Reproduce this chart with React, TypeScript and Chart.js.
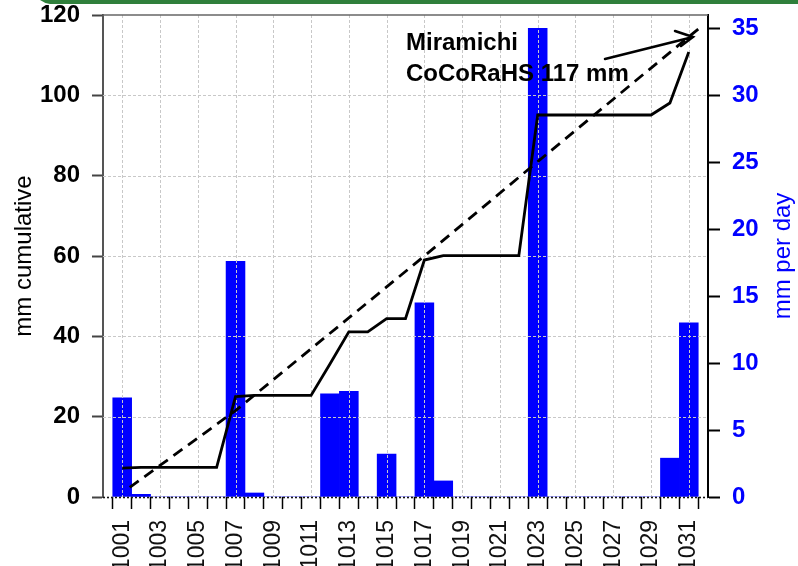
import React, { useEffect, useRef } from "react";
import { Chart, registerables } from "chart.js";

Chart.register(...registerables);

// ---- data ----
const days = [
  1001, 1002, 1003, 1004, 1005, 1006, 1007, 1008, 1009, 1010, 1011, 1012, 1013, 1014, 1015, 1016,
  1017, 1018, 1019, 1020, 1021, 1022, 1023, 1024, 1025, 1026, 1027, 1028, 1029, 1030, 1031,
];
const dailyMm = [
  7.4, 0.2, 0, 0, 0, 0, 17.6, 0.3, 0, 0, 0, 7.7, 7.9, 0, 3.2, 0,
  14.5, 1.2, 0, 0, 0, 0, 35.0, 0, 0, 0, 0, 0, 0, 2.9, 13.0,
];
const cumulativeMm = [
  7.2, 7.4, 7.4, 7.4, 7.4, 7.4, 25.0, 25.3, 25.3, 25.3, 25.3, 33.1, 41.1, 41.1, 44.4, 44.4,
  59.0, 60.1, 60.1, 60.1, 60.1, 60.1, 95.1, 95.1, 95.1, 95.1, 95.1, 95.1, 95.1, 98.1, 110.8,
];
const normalDays = [1001.4, 1007, 1017, 1023, 1031.5];
const normalMm = [2.4, 21.5, 60.0, 83.5, 116.5];
const leftTicks = [0, 20, 40, 60, 80, 100, 120];
const rightTicks = [0, 5, 10, 15, 20, 25, 30, 35];
const leftTitle = "mm cumulative";
const rightTitle = "mm per day";
const annotationLines = ["Miramichi", "CoCoRaHS 117 mm"];

const FONT = '"Liberation Sans", Arial, Helvetica, sans-serif';

const decorPlugin = {
  id: "decor",
  beforeDraw(chart: any) {
    const ctx = chart.ctx;
    ctx.save();
    ctx.fillStyle = "#2f7f3b";
    ctx.beginPath();
    ctx.moveTo(40, 0);
    ctx.lineTo(798, 0);
    ctx.lineTo(798, 4);
    ctx.lineTo(50, 4);
    ctx.quadraticCurveTo(44, 3, 40, 0);
    ctx.closePath();
    ctx.fill();
    ctx.restore();
  },
  afterDatasetDraw(chart: any, args: any) {
    if (args.index !== 0) return;
    const { ctx, chartArea } = chart;
    const xs = chart.scales.x;
    const ys = chart.scales.y;
    ctx.save();
    ctx.beginPath();
    ctx.rect(chartArea.left, chartArea.top, chartArea.right - chartArea.left, chartArea.bottom - chartArea.top);
    ctx.clip();
    ctx.strokeStyle = "#c8c8c8";
    ctx.lineWidth = 1;
    ctx.setLineDash([3, 2]);
    leftTicks.forEach((v) => {
      if (v === leftTicks[0] || v === leftTicks[leftTicks.length - 1]) return;
      const y = Math.round(ys.getPixelForValue(v)) + 0.5;
      ctx.beginPath();
      ctx.moveTo(chartArea.left, y);
      ctx.lineTo(chartArea.right, y);
      ctx.stroke();
    });
    days.forEach((d) => {
      if (d % 2 !== 1) return;
      const x = Math.round(xs.getPixelForValue(d)) + 0.5;
      ctx.beginPath();
      ctx.moveTo(x, chartArea.top);
      ctx.lineTo(x, chartArea.bottom);
      ctx.stroke();
    });
    ctx.restore();
  },
  afterDatasetsDraw(chart: any) {
    const { ctx, chartArea } = chart;
    ctx.save();
    ctx.strokeStyle = "#111";
    ctx.lineWidth = 1.6;
    ctx.setLineDash([2, 2]);
    ctx.beginPath();
    ctx.moveTo(chartArea.left, Math.round(chartArea.bottom) + 0.5);
    ctx.lineTo(chartArea.right, Math.round(chartArea.bottom) + 0.5);
    ctx.stroke();
    ctx.setLineDash([]);
    ctx.strokeStyle = "#666";
    ctx.lineWidth = 1.5;
    ctx.beginPath();
    ctx.moveTo(chartArea.left, chartArea.top);
    ctx.lineTo(chartArea.right, chartArea.top);
    ctx.stroke();
    ctx.restore();
  },
  afterDraw(chart: any) {
    const { ctx, chartArea } = chart;
    ctx.save();
    // right axis title (reads bottom-to-top)
    ctx.fillStyle = "#0000ff";
    ctx.font = `24px ${FONT}`;
    ctx.textAlign = "center";
    ctx.textBaseline = "middle";
    ctx.translate(783, (chartArea.top + chartArea.bottom) / 2);
    ctx.rotate(-Math.PI / 2);
    ctx.fillText(rightTitle, 0, 0);
    ctx.restore();

    ctx.save();
    ctx.fillStyle = "#000";
    ctx.font = `bold 24px ${FONT}`;
    ctx.textAlign = "left";
    ctx.textBaseline = "alphabetic";
    ctx.fillText(annotationLines[0], 406, 50);
    ctx.fillText(annotationLines[1], 406, 81);
    // arrow
    ctx.strokeStyle = "#000";
    ctx.lineWidth = 2.5;
    ctx.lineCap = "round";
    ctx.beginPath();
    ctx.moveTo(605, 59);
    ctx.lineTo(693, 37);
    ctx.moveTo(675, 31);
    ctx.lineTo(693, 37);
    ctx.lineTo(681, 46);
    ctx.stroke();
    ctx.restore();
  },
};

function noPad(scale: any) {
  scale.paddingTop = 0;
  scale.paddingBottom = 0;
  scale.paddingLeft = 0;
  scale.paddingRight = 0;
}

export default function App() {
  const canvasRef = useRef<HTMLCanvasElement | null>(null);

  useEffect(() => {
    const canvas = canvasRef.current;
    if (!canvas) return;
    const chart = new Chart(canvas, {
      type: "bar",
      data: {
        datasets: [
          {
            type: "bar",
            label: "mm per day",
            data: days.map((d, i) => ({ x: d, y: dailyMm[i] })),
            yAxisID: "y1",
            xAxisID: "x",
            backgroundColor: "#0000ff",
            borderWidth: 0,
            barPercentage: 1,
            categoryPercentage: 1,
            order: 3,
          } as any,
          {
            type: "line",
            label: "normal",
            data: normalDays.map((d, i) => ({ x: d, y: normalMm[i] })),
            yAxisID: "y",
            xAxisID: "x",
            borderColor: "#000",
            borderWidth: 2.8,
            borderDash: [11, 7],
            pointRadius: 0,
            tension: 0,
            fill: false,
            order: 2,
          } as any,
          {
            type: "line",
            label: "cumulative",
            data: days.map((d, i) => ({ x: d, y: cumulativeMm[i] })),
            yAxisID: "y",
            xAxisID: "x",
            borderColor: "#000",
            borderWidth: 2.8,
            pointRadius: 0,
            tension: 0,
            fill: false,
            order: 1,
          } as any,
        ],
      },
      options: {
        responsive: false,
        animation: false,
        devicePixelRatio: 1,
        layout: { padding: { top: 15, left: 0, right: 0, bottom: 0 } },
        plugins: {
          legend: { display: false },
          tooltip: { enabled: false },
          title: { display: false },
        },
        scales: {
          x: {
            type: "linear",
            position: "bottom",
            min: 1000.5,
            max: 1031.5,
            afterBuildTicks: (scale: any) => {
              scale.ticks = days.map((v) => ({ value: v }));
            },
            afterFit: (scale: any) => {
              scale.height = 69;
              noPad(scale);
            },
            ticks: {
              autoSkip: false,
              minRotation: 90,
              maxRotation: 90,
              padding: 11,
              color: "#111",
              font: { family: FONT, size: 23 },
              callback: (v: any) => (Number(v) % 2 === 1 ? String(v) : ""),
            },
            grid: {
              drawOnChartArea: false,
              drawTicks: true,
              tickLength: 12,
              tickColor: "#000",
              tickWidth: 1.5,
            },
            border: { display: false },
          },
          y: {
            type: "linear",
            position: "left",
            min: 0,
            max: 120,
            z: 1,
            afterBuildTicks: (scale: any) => {
              scale.ticks = leftTicks.map((v) => ({ value: v }));
            },
            afterFit: (scale: any) => {
              scale.width = 103;
              noPad(scale);
            },
            ticks: {
              padding: 12,
              color: "#000",
              font: { family: FONT, size: 24, weight: "bold" },
            },
            grid: {
              drawOnChartArea: false,
              tickLength: 11,
              tickColor: "#444",
              tickWidth: 2,
            },
            border: { display: true, color: "#555", width: 2 },
            title: {
              display: true,
              text: leftTitle,
              color: "#000",
              font: { family: FONT, size: 24 },
              padding: { top: 10, bottom: 0 },
            },
          },
          y1: {
            type: "linear",
            position: "right",
            min: 0,
            max: 36,
            z: 1,
            afterBuildTicks: (scale: any) => {
              scale.ticks = rightTicks.map((v) => ({ value: v }));
            },
            afterFit: (scale: any) => {
              scale.width = 90;
              noPad(scale);
            },
            ticks: {
              padding: 12,
              color: "#0000ff",
              font: { family: FONT, size: 24, weight: "bold" },
            },
            grid: {
              drawOnChartArea: false,
              tickLength: 12,
              tickColor: "#000",
              tickWidth: 2,
            },
            border: { display: true, color: "#000", width: 2 },
          },
        },
      } as any,
      plugins: [decorPlugin],
    });
    return () => chart.destroy();
  }, []);

  return (
    <div style={{ position: "fixed", left: 0, top: 0, width: 798, height: 566, background: "#fff" }}>
      <canvas ref={canvasRef} width={798} height={566} style={{ display: "block" }} />
    </div>
  );
}
